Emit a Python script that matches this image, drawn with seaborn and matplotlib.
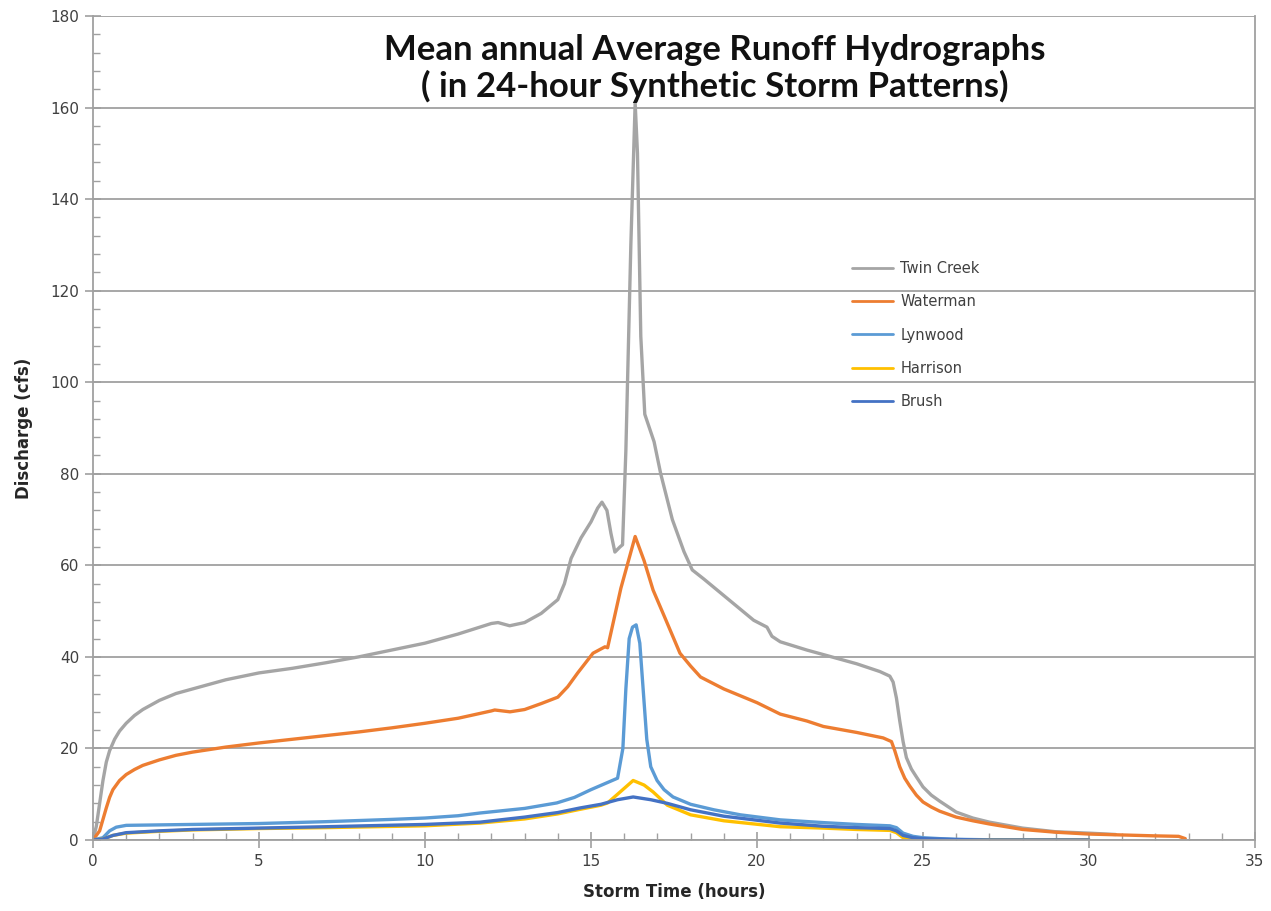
import numpy as np
import pandas as pd
import matplotlib
matplotlib.use("Agg")
import matplotlib.pyplot as plt
import seaborn as sns
from matplotlib.ticker import MultipleLocator

# ---------------- data ----------------
series_names = ["Twin Creek", "Waterman", "Lynwood", "Harrison", "Brush"]
colors = ["#A5A5A5", "#ED7D31", "#5B9BD5", "#FFC000", "#4472C4"]

twin_t = [0, 0.1, 0.2, 0.3, 0.4, 0.5, 0.65, 0.8, 1, 1.25, 1.5, 2, 2.5, 3, 4, 5, 6, 7, 8, 9, 10, 11,
          12, 12.2, 12.55, 13, 13.5, 14, 14.2, 14.4, 14.7, 15.0, 15.2, 15.33, 15.48, 15.6, 15.72,
          15.87, 15.95, 16.05, 16.2, 16.33, 16.4, 16.5, 16.62, 16.9, 17.1, 17.45, 17.8, 18.05,
          18.4, 18.9, 19.9, 20.3, 20.45, 20.7, 21.5, 22, 23, 23.7, 24.0, 24.1, 24.2, 24.3, 24.4,
          24.5, 24.65, 24.8, 25.0, 25.25, 25.5, 26, 26.5, 27, 28, 29, 30, 30.8]
twin_v = [0, 3, 8, 13, 17, 19.5, 22, 23.8, 25.5, 27.2, 28.5, 30.5, 32, 33, 35, 36.5, 37.5, 38.7,
          40, 41.5, 43, 45, 47.3, 47.5, 46.8, 47.5, 49.5, 52.5, 56, 61.5, 66, 69.5, 72.5, 73.8,
          72, 67, 62.9, 64, 64.5, 85, 130, 161, 150, 110, 93, 87, 80, 70, 63, 59, 57, 54, 48,
          46.5, 44.5, 43.3, 41.5, 40.5, 38.5, 36.8, 35.8, 34.5, 31, 26, 21.5, 18, 15.5, 13.8,
          11.6, 9.8, 8.5, 6.1, 4.8, 3.9, 2.6, 1.8, 1.5, 1.2]

water_t = [0, 0.2, 0.3, 0.4, 0.5, 0.6, 0.8, 1, 1.25, 1.5, 2, 2.5, 3, 4, 5, 6, 7, 8, 9, 10, 11, 12,
           12.1, 12.56, 13, 13.5, 14, 14.3, 14.6, 15.06, 15.42, 15.5, 15.9, 16.33, 16.6, 16.87,
           17.2, 17.68, 18.0, 18.3, 19, 20, 20.7, 21.5, 22, 23, 23.8, 24.05, 24.15, 24.3, 24.45,
           24.6, 24.8, 25, 25.25, 25.5, 26, 26.5, 27, 28, 29, 30, 31, 32, 32.7, 32.9]
water_v = [0, 2, 4.5, 7, 9.3, 11, 13, 14.3, 15.4, 16.3, 17.5, 18.5, 19.2, 20.3, 21.2, 22, 22.8,
           23.6, 24.5, 25.5, 26.6, 28.2, 28.4, 28, 28.5, 29.8, 31.2, 33.5, 36.5, 40.8, 42.2, 42,
           55, 66.3, 61, 54.6, 49, 40.8, 38, 35.6, 33, 30, 27.5, 26, 24.8, 23.5, 22.3, 21.5, 19.5,
           16, 13.5, 11.8, 9.8, 8.3, 7.2, 6.3, 5, 4.2, 3.5, 2.3, 1.7, 1.3, 1.1, 0.9, 0.8, 0.3]

lyn_t = [0, 0.3, 0.5, 0.7, 1, 2, 3, 5, 7, 9, 10, 11, 11.66, 13, 13.97, 14.5, 15, 15.48, 15.8,
         15.96, 16.05, 16.15, 16.25, 16.36, 16.47, 16.57, 16.68, 16.8, 16.99, 17.2, 17.47, 18,
         18.7, 19.5, 20.7, 22, 23, 24.0, 24.2, 24.4, 24.7, 25, 25.5, 26, 27, 28, 30]
lyn_v = [0, 0.5, 2, 2.8, 3.2, 3.3, 3.4, 3.6, 4.0, 4.5, 4.8, 5.3, 5.9, 6.9, 8.1, 9.3, 11, 12.5,
         13.5, 20, 33, 44, 46.5, 47, 43, 33, 22, 16, 13, 11, 9.4, 7.8, 6.6, 5.5, 4.4, 3.8, 3.4,
         3.1, 2.7, 1.5, 0.8, 0.5, 0.3, 0.15, 0.05, 0, 0]

har_t = [0, 0.3, 0.6, 1, 2, 3, 5, 7, 10, 11.66, 13, 14, 14.67, 15.3, 15.5, 15.8, 16.27, 16.6,
         16.87, 17.3, 18, 19, 20.7, 22, 23, 24.0, 24.2, 24.4, 24.7, 25, 26, 27, 30]
har_v = [0, 0.2, 1.0, 1.5, 1.9, 2.2, 2.5, 2.7, 3.1, 3.7, 4.6, 5.7, 6.7, 7.6, 8.1, 10, 13, 12,
         10.5, 7.6, 5.5, 4.2, 2.9, 2.6, 2.3, 2.1, 1.6, 0.5, 0.1, 0, 0, 0, 0]

brush_t = [0, 0.3, 0.6, 1, 2, 3, 5, 7, 10, 11.66, 13, 14, 14.67, 15.3, 15.8, 16.27, 16.8, 17.3,
           18, 19, 20.7, 22, 23, 24.0, 24.2, 24.4, 24.7, 25, 26, 27, 30]
brush_v = [0, 0.2, 1.0, 1.6, 2.0, 2.3, 2.6, 2.9, 3.4, 3.9, 5.0, 6.0, 7.0, 7.8, 8.8, 9.4, 8.8,
           8.0, 6.6, 5.2, 3.7, 3.0, 2.7, 2.5, 2.0, 1.0, 0.5, 0.3, 0.1, 0, 0]

x_ticks = [0, 5, 10, 15, 20, 25, 30, 35]
y_ticks = [0, 20, 40, 60, 80, 100, 120, 140, 160, 180]

# ---------------- build frame ----------------
all_t = [twin_t, water_t, lyn_t, har_t, brush_t]
all_v = [twin_v, water_v, lyn_v, har_v, brush_v]
frames = []
for name, t, v in zip(series_names, all_t, all_v):
    frames.append(pd.DataFrame({"t": t, "q": v, "series": name}))
df = pd.concat(frames, ignore_index=True)

# ---------------- plot ----------------
sns.set_style("white")
plt.rcParams["font.family"] = ["DejaVu Sans"]

fig = plt.figure(figsize=(12.71, 9.11), dpi=100)
ax = fig.add_axes([93 / 1271, 1 - 840 / 911, (1255 - 93) / 1271, (840 - 16) / 911])

sns.lineplot(data=df, x="t", y="q", hue="series", hue_order=series_names,
             palette=dict(zip(series_names, colors)), sort=False, estimator=None,
             linewidth=2.4, ax=ax)

ax.set_xlim(0, 35)
ax.set_ylim(0, 180)
ax.set_xticks(x_ticks)
ax.set_yticks(y_ticks)
ax.xaxis.set_minor_locator(MultipleLocator(1))
ax.yaxis.set_minor_locator(MultipleLocator(4))
ax.grid(axis="y", which="major", color="#A0A0A0", linewidth=1.3)
ax.set_axisbelow(True)

for s in ["left", "bottom", "right", "top"]:
    ax.spines[s].set_color("#A0A0A0")
    ax.spines[s].set_linewidth(1.3)
ax.spines["top"].set_visible(False)

ax.tick_params(axis="both", which="major", direction="inout", length=12, width=1.2,
               color="#A0A0A0", labelsize=11, labelcolor="#404040", pad=4)
ax.tick_params(axis="both", which="minor", direction="in", length=5, width=1.0,
               color="#A0A0A0")
ax.tick_params(axis="both", which="both", left=True, bottom=True, right=False, top=False)

ax.set_xlabel("Storm Time (hours)", fontsize=12, fontweight="bold", color="#262626", labelpad=10)
ax.set_ylabel("Discharge (cfs)", fontsize=12, fontweight="bold", color="#262626", labelpad=12)

ax.text(0.535, 0.978, "Mean annual Average Runoff Hydrographs\n( in 24-hour Synthetic Storm Patterns)",
        transform=ax.transAxes, ha="center", va="top", fontsize=25, fontweight="bold",
        color="#111111", family=["Lato", "DejaVu Sans"], linespacing=1.12)

leg = ax.legend(loc="upper left", bbox_to_anchor=((839 - 93) / 1162, (840 - 248) / 824),
                frameon=False, fontsize=10.5, handlelength=2.8, handletextpad=0.5,
                labelspacing=1.25, title=None)
for line in leg.get_lines():
    line.set_linewidth(2.0)
for txt in leg.get_texts():
    txt.set_color("#404040")

fig.savefig("out.png", dpi=100)
